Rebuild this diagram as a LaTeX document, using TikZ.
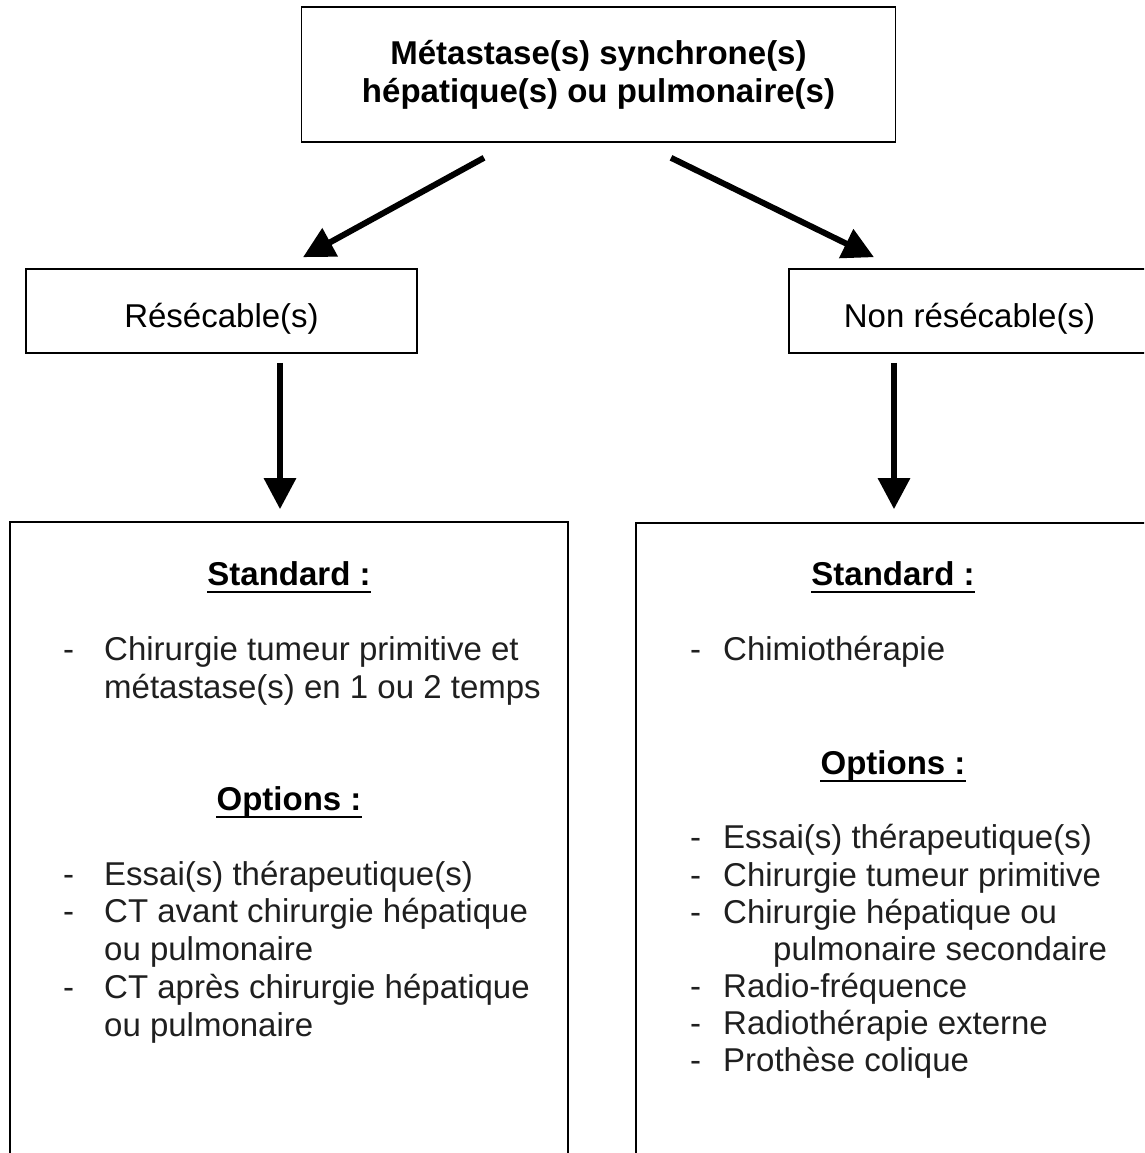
\documentclass[tikz,border=0pt]{standalone}
\usepackage{fontspec}
\setmainfont{Liberation Sans}
\usetikzlibrary{arrows.meta}
\begin{document}
\begin{tikzpicture}[x=1pt,y=-1pt,
  box/.style={draw=black, line width=1.6pt, rectangle, inner sep=0pt, align=center, font=\fontsize{33}{38}\selectfont},
  topbox/.style={box, font=\fontsize{33}{38}\selectfont\bfseries},
  midbox/.style={box, text height=32pt, text depth=0pt, minimum height=84pt},
  txt/.style={anchor=base west, inner sep=0pt, font=\fontsize{33}{38}\selectfont, text=black!88},
  head/.style={anchor=base, inner sep=0pt, font=\fontsize{33}{38}\selectfont\bfseries},
  uline/.style={line width=2.5pt},
  arr/.style={line width=6pt, -{Triangle[length=31pt,width=31pt]}},
]
\useasboundingbox (0,0) rectangle (1144,1153);
\clip (0,0) rectangle (1144,1153);

% boxes
\node[topbox, minimum width=594pt, minimum height=135pt] (top) at (598.5,74.5)
  {Métastase(s) synchrone(s)\\hépatique(s) ou pulmonaire(s)};
\node[midbox, minimum width=391pt] (res) at (221.5,311) {Résécable(s)};
\node[midbox, minimum width=361pt] (nres) at (969.5,311) {Non résécable(s)};
\node[box, minimum width=558pt, minimum height=678pt] (bl) at (289,861) {};
\node[box, minimum width=524pt, minimum height=677pt] (br) at (898,861.5) {};

% arrows
\draw[arr] ([xshift=-114.5pt,yshift=-15pt]top.south) -- ([xshift=81.5pt,yshift=11pt]res.north);
\draw[arr] ([xshift=72.5pt,yshift=-15pt]top.south) -- ([xshift=-95.5pt,yshift=11pt]nres.north);
\draw[arr] ([xshift=58.5pt,yshift=-9pt]res.south) -- ([xshift=-9pt,yshift=12pt]bl.north);
\draw[arr] ([xshift=-75.5pt,yshift=-9pt]nres.south) -- ([xshift=-4pt,yshift=13pt]br.north);

% left box content
\node[head] (lstd) at (289,585) {Standard :};
\draw[uline] ([yshift=-7pt]lstd.base west) -- ([yshift=-7pt]lstd.base east);
\node[txt] (ld1) at (63,660) {-};
\node[txt] (lt1) at (104,660) {Chirurgie tumeur primitive et};
\node[txt] (lt2) at (104,698) {métastase(s) en 1 ou 2 temps};
\node[head] (lopt) at (289,810) {Options :};
\draw[uline] ([yshift=-7pt]lopt.base west) -- ([yshift=-7pt]lopt.base east);
\node[txt] (ld2) at (63,885) {-};
\node[txt] (lt3) at (104,885) {Essai(s) thérapeutique(s)};
\node[txt] (ld3) at (63,922) {-};
\node[txt] (lt4) at (104,922) {CT avant chirurgie hépatique};
\node[txt] (lt5) at (104,960) {ou pulmonaire};
\node[txt] (ld4) at (63,998) {-};
\node[txt] (lt6) at (104,998) {CT après chirurgie hépatique};
\node[txt] (lt7) at (104,1036) {ou pulmonaire};

% right box content
\node[head] (rstd) at (893,585) {Standard :};
\draw[uline] ([yshift=-7pt]rstd.base west) -- ([yshift=-7pt]rstd.base east);
\node[txt] (rd1) at (690,660) {-};
\node[txt] (rt1) at (723,660) {Chimiothérapie};
\node[head] (ropt) at (893,774) {Options :};
\draw[uline] ([yshift=-7pt]ropt.base west) -- ([yshift=-7pt]ropt.base east);
\node[txt] (rd2) at (690,848) {-};
\node[txt] (rt2) at (723,848) {Essai(s) thérapeutique(s)};
\node[txt] (rd3) at (690,886) {-};
\node[txt] (rt3) at (723,886) {Chirurgie tumeur primitive};
\node[txt] (rd4) at (690,923) {-};
\node[txt] (rt4) at (723,923) {Chirurgie hépatique ou};
\node[txt] (rt5) at (773,960) {pulmonaire secondaire};
\node[txt] (rd5) at (690,997) {-};
\node[txt] (rt6) at (723,997) {Radio-fréquence};
\node[txt] (rd6) at (690,1034) {-};
\node[txt] (rt7) at (723,1034) {Radiothérapie externe};
\node[txt] (rd7) at (690,1071) {-};
\node[txt] (rt8) at (723,1071) {Prothèse colique};
\end{tikzpicture}
\end{document}
